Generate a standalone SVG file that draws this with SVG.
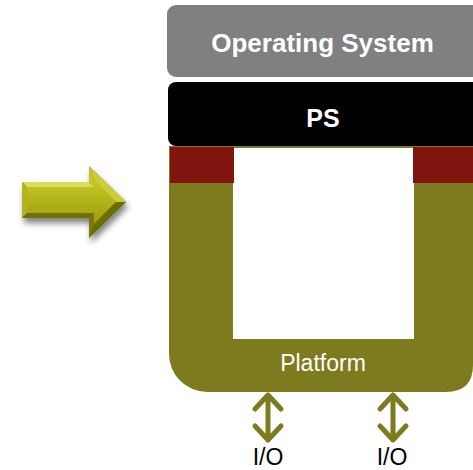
<svg xmlns="http://www.w3.org/2000/svg" width="473" height="470" viewBox="0 0 473 470">
  <defs>
    <style>
      .lbl { font-family: "Liberation Sans", Arial, sans-serif; fill: #ffffff; text-anchor: middle; }
      .bold { font-weight: bold; }
      .io { font-family: "Liberation Sans", Arial, sans-serif; fill: #000000; text-anchor: middle; font-size: 23px; }
      .conn { stroke: #7e7b1f; stroke-width: 5; fill: none; stroke-linecap: round; stroke-linejoin: round; }
    </style>
    <linearGradient id="face" x1="0" y1="0" x2="0" y2="1">
      <stop offset="0" stop-color="#c8c824"/>
      <stop offset="1" stop-color="#9c9c10"/>
    </linearGradient>
    <filter id="shadow" x="-20%" y="-20%" width="150%" height="160%">
      <feGaussianBlur in="SourceAlpha" stdDeviation="3"/>
      <feOffset dx="2" dy="5" result="b"/>
      <feComponentTransfer><feFuncA type="linear" slope="0.5"/></feComponentTransfer>
      <feMerge><feMergeNode/><feMergeNode in="SourceGraphic"/></feMerge>
    </filter>
  </defs>

  <g id="big-arrow">
    <polygon points="22,182 89,182 89,166 126,202 89,238 89,218 22,218" fill="#8a8a08" filter="url(#shadow)"/>
    <polygon points="27,187 94,187 94,180 116,202 94,224 94,213 27,213" fill="url(#face)"/>
    <polygon points="22,182 89,182 94,187 27,187" fill="#dcdc60"/>
    <polygon points="22,182 27,187 27,213 22,218" fill="#b4b420"/>
    <polygon points="22,218 27,213 94,213 89,218" fill="#707008"/>
    <polygon points="89,182 89,166 94,180 94,187" fill="#c4c430"/>
    <polygon points="89,166 126,202 116,202 94,180" fill="#cccc3c"/>
    <polygon points="126,202 89,238 94,224 116,202" fill="#6c6c06"/>
    <polygon points="89,238 89,218 94,213 94,224" fill="#7a7a0a"/>
  </g>

  <g id="platform">
    <path d="M169,146 H473 V365 Q473,392 446,392 H207 A38,38 0 0 1 169,354 Z" fill="#7e7b1f"/>
    <rect x="233" y="148" width="181" height="191" fill="#ffffff"/>
    <text class="lbl" x="323" y="371" font-size="23">Platform</text>
  </g>

  <g id="pl-left">
    <rect x="170" y="147" width="64" height="36" fill="#7f150e"/>
  </g>
  <g id="pl-right">
    <rect x="413" y="147" width="60" height="36" fill="#7f150e"/>
  </g>

  <g id="ps">
    <rect x="168" y="82" width="330" height="64" rx="8" fill="#000000"/>
    <text class="lbl bold" x="323" y="127" font-size="25">PS</text>
  </g>

  <g id="os">
    <rect x="167" y="5" width="330" height="72" rx="9" fill="#808080"/>
    <text class="lbl bold" x="322.5" y="52" font-size="26">Operating System</text>
  </g>

  <g id="connectors">
    <g class="conn">
      <path d="M268,395 V440 M255,409 L268,395 L281,409 M255,426 L268,440 L281,426"/>
      <path d="M393,395 V440 M380,409 L393,395 L406,409 M380,426 L393,440 L406,426"/>
    </g>
  </g>

  <g id="io1"><text class="io" x="268" y="465">I/O</text></g>
  <g id="io2"><text class="io" x="392" y="465">I/O</text></g>
</svg>
